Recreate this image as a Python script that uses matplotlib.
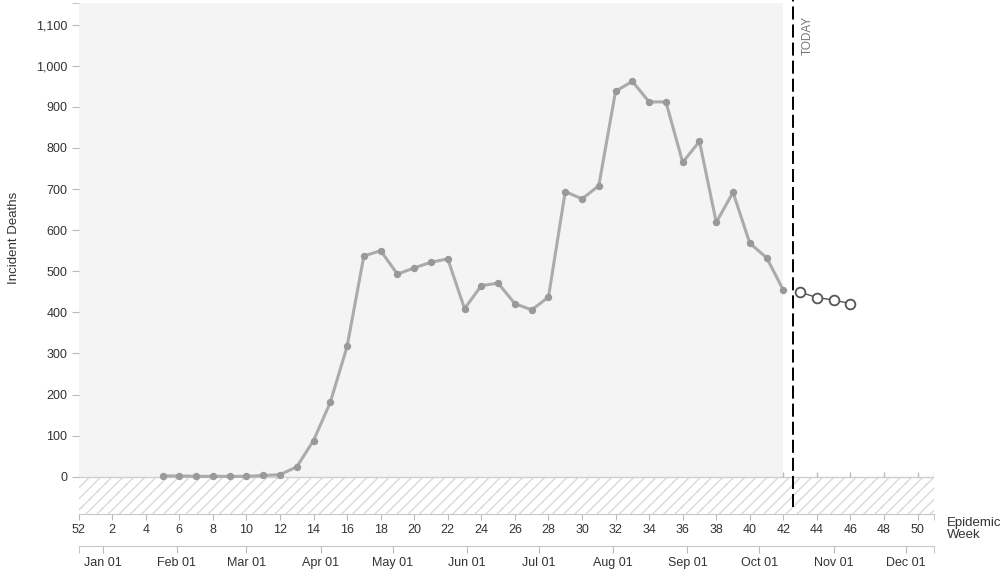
import numpy as np
import matplotlib.pyplot as plt
from matplotlib.ticker import FuncFormatter

plt.rcParams['font.family'] = ['Liberation Sans', 'DejaVu Sans']
plt.rcParams['lines.scale_dashes'] = False

# observed weekly incident deaths (epi weeks 5..42)
weeks_obs = np.arange(5, 43)
deaths_obs = [2, 2, 1, 1, 1, 1, 3, 5, 24, 88, 181, 317, 537, 550, 493, 508, 522, 530,
              409, 465, 471, 421, 406, 437, 694, 676, 708, 938, 962, 912, 912, 765,
              816, 619, 692, 568, 533, 454]

# forecast
weeks_fc = [43, 44, 45, 46]
deaths_fc = [449, 436, 430, 421]

today_week = 42.6
week_ticks = np.arange(0, 51, 2)
week_labels = ['52'] + [str(w) for w in range(2, 51, 2)]
month_labels = ['Jan 01', 'Feb 01', 'Mar 01', 'Apr 01', 'May 01', 'Jun 01',
                'Jul 01', 'Aug 01', 'Sep 01', 'Oct 01', 'Nov 01', 'Dec 01']
start = np.datetime64('2019-12-22')
months = np.arange('2020-01', '2021-01', dtype='datetime64[M]').astype('datetime64[D]')
month_pos = (months - start).astype(int) / 7.0

y_top = 1153
y_min, y_max = -90.7, 1160
x_max = 51

fig = plt.figure(figsize=(10, 5.71), dpi=100)
ax = fig.add_axes([0.0786, 1 - 514 / 571, (934.4 - 78.6) / 1000, 514 / 571])
ax.set_xlim(0, x_max)
ax.set_ylim(y_min, y_max)

# background shading for observed period and hatched band below zero
ax.fill_between([0, 42], 0, y_top, color='#f4f4f4', lw=0, zorder=0)
ax.fill_between([0, x_max], y_min, 0, facecolor='none', edgecolor='#d9d9d9',
                hatch='///', lw=0, zorder=0)
ax.axhline(0, color='#cfcfcf', lw=1, zorder=1)
ax.vlines([42, 44, 46, 48, 50, 51], 0, 12, color='#bbbbbb', lw=1, zorder=1)

ax.plot(weeks_obs, deaths_obs, color='#ababab', lw=2.2, marker='o', ms=4.3,
        mfc='#999999', mec='#999999', zorder=3)
ax.plot(weeks_fc, deaths_fc, color='#555555', lw=1, marker='o', ms=7,
        mfc='white', mec='#555555', mew=1.3, zorder=4)

ax.plot([today_week, today_week], [-73.7, y_max], color='black', lw=1.4,
        dashes=(9.4, 3.6), zorder=5)
ax.text(43.45, 1122, 'TODAY', rotation=90, ha='center', va='top',
        fontsize=8.5, color='#777777')

# axes styling
for s in ['top', 'right', 'left']:
    ax.spines[s].set_visible(False)
ax.spines['bottom'].set_color('#c8c8c8')

ax.set_yticks(range(0, 1101, 100))
ax.set_yticks([y_top], minor=True)
ax.yaxis.set_major_formatter(FuncFormatter(lambda v, p: f'{v:,.0f}'))
ax.tick_params(axis='y', which='both', length=5, color='#bbbbbb', labelsize=9,
               labelcolor='#333333', pad=3)

ax.set_xticks(week_ticks, week_labels)
ax.set_xticks([x_max], minor=True)
ax.tick_params(axis='x', which='both', length=4, color='#bbbbbb', labelsize=9,
               labelcolor='#333333', pad=3)

sec = ax.secondary_xaxis(-32 / 514)
sec.set_xticks(month_pos, month_labels)
sec.set_xticks([0, x_max], minor=True)
sec.spines['bottom'].set_color('#c8c8c8')
sec.tick_params(axis='x', which='both', length=5, color='#bbbbbb', labelsize=9,
                labelcolor='#333333', pad=3)

ax.set_ylabel('Incident Deaths', fontsize=9.5, color='#333333')
ax.yaxis.set_label_coords(-0.0685, 0.537)
fig.text(0.9467, 1 - 529 / 571, 'Epidemic\nWeek', fontsize=9.5, color='#333333',
         ha='left', va='center', linespacing=1.0)

fig.savefig('out.png', dpi=100)
